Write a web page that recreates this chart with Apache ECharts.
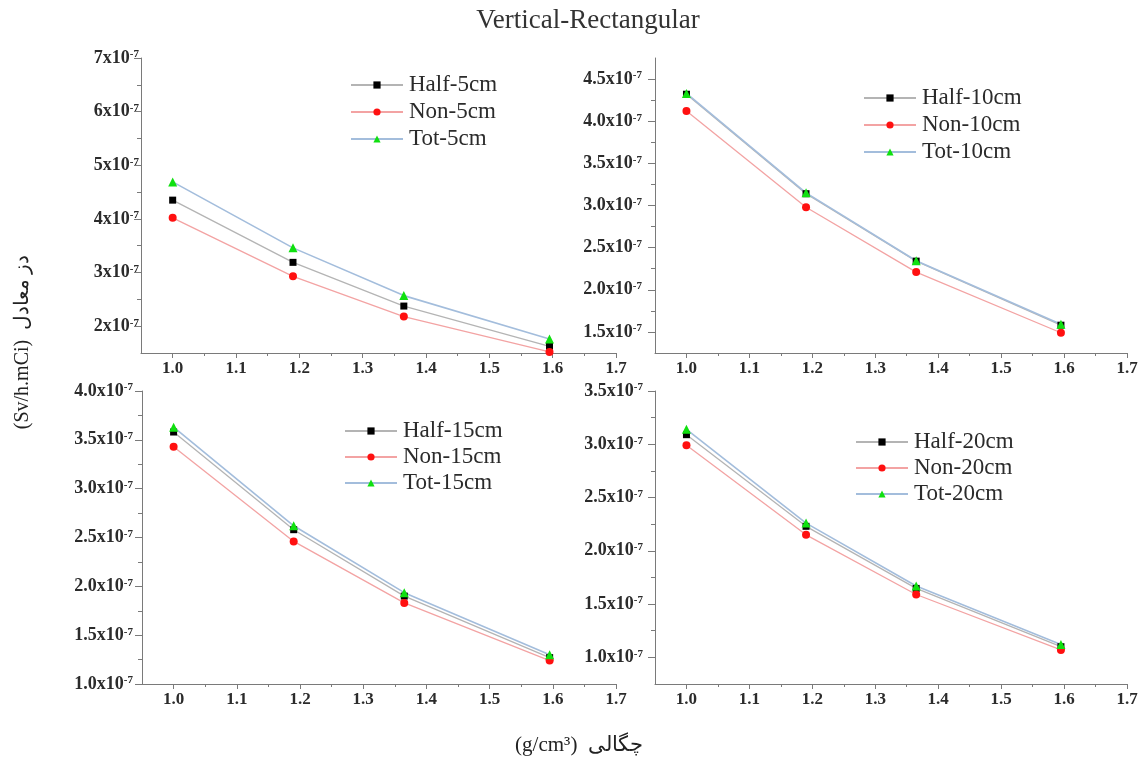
<!DOCTYPE html>
<html>
<head>
<meta charset="utf-8">
<script src="https://cdn.jsdelivr.net/npm/echarts@6/dist/echarts.min.js"></script>
<style>
  html, body { margin: 0; padding: 0; background: #fff; }
  #chart { width: 1141px; height: 762px; }
</style>
</head>
<body>
<div id="chart"></div>
<script>
// Density of the shielding material (g/cm3)
const densities = [1.0, 1.19, 1.365, 1.595];

// Equivalent dose values, in units of 1e-7 Sv/h.mCi
const half5  = [4.35, 3.19, 2.375, 1.625];
const non5   = [4.02, 2.93, 2.18, 1.52];
const tot5   = [4.69, 3.46, 2.57, 1.76];

const half10 = [4.32, 3.14, 2.34, 1.58];
const non10  = [4.12, 2.98, 2.21, 1.49];
const tot10  = [4.33, 3.15, 2.345, 1.59];

const half15 = [3.58, 2.58, 1.90, 1.27];
const non15  = [3.43, 2.46, 1.83, 1.24];
const tot15  = [3.63, 2.62, 1.935, 1.30];

const half20 = [3.09, 2.23, 1.647, 1.10];
const non20  = [2.99, 2.15, 1.59, 1.07];
const tot20  = [3.14, 2.26, 1.67, 1.12];

// Axis ticks
const xMajorTicks = [1.0, 1.1, 1.2, 1.3, 1.4, 1.5, 1.6, 1.7];
const xMinorTicks = [1.05, 1.15, 1.25, 1.35, 1.45, 1.55, 1.65];

const yMajor5  = [2, 3, 4, 5, 6, 7];
const yMinor5  = [2.5, 3.5, 4.5, 5.5, 6.5];
const yMajor10 = [1.5, 2.0, 2.5, 3.0, 3.5, 4.0, 4.5];
const yMinor10 = [1.75, 2.25, 2.75, 3.25, 3.75, 4.25];
const yMajor15 = [1.0, 1.5, 2.0, 2.5, 3.0, 3.5, 4.0];
const yMinor15 = [1.25, 1.75, 2.25, 2.75, 3.25, 3.75];
const yMajor20 = [1.0, 1.5, 2.0, 2.5, 3.0, 3.5];
const yMinor20 = [1.25, 1.75, 2.25, 2.75, 3.25];

const FONT = 'Liberation Serif';
const TXT = '#2b2b2b';
const AXIS = '#7a7a7a';

const panels = [
  { depth: '5cm',  half: half5,  non: non5,  tot: tot5,  yMin: 1.5,  yMax: 7,    major: yMajor5,  minor: yMinor5,  dec: 0, labelGap: 2,
    grid: { left: 141, top: 58,  width: 475, height: 295 }, legend: { left: 350, top: 72 },  gap: 1 },
  { depth: '10cm', half: half10, non: non10, tot: tot10, yMin: 1.25, yMax: 4.75, major: yMajor10, minor: yMinor10, dec: 1, labelGap: 13,
    grid: { left: 655, top: 58,  width: 472, height: 295 }, legend: { left: 863, top: 85 },  gap: 1 },
  { depth: '15cm', half: half15, non: non15, tot: tot15, yMin: 1.0,  yMax: 4.0,  major: yMajor15, minor: yMinor15, dec: 1, labelGap: 9,
    grid: { left: 142, top: 391, width: 474, height: 293 }, legend: { left: 344, top: 418 }, gap: 0 },
  { depth: '20cm', half: half20, non: non20, tot: tot20, yMin: 0.75, yMax: 3.5,  major: yMajor20, minor: yMinor20, dec: 1, labelGap: 12,
    grid: { left: 655, top: 391, width: 472, height: 293 }, legend: { left: 855, top: 429 }, gap: 0 }
];

const seriesStyles = [
  { key: 'half', prefix: 'Half', symbol: 'rect',     size: 7, mark: '#000000', line: '#b4b4b4', width: 1.3 },
  { key: 'non',  prefix: 'Non',  symbol: 'circle',   size: 8, mark: '#ff1010', line: '#f3a3a3', width: 1.3 },
  { key: 'tot',  prefix: 'Tot',  symbol: 'triangle', size: 9, mark: '#10e010', line: '#a3bddc', width: 1.6 }
];

const grids = [], xAxes = [], yAxes = [], series = [], legends = [];

panels.forEach((p, i) => {
  grids.push(Object.assign({ containLabel: false }, p.grid));

  // main x axis with labels and major ticks
  xAxes.push({
    type: 'value', gridIndex: i, position: 'bottom', min: 0.95, max: 1.7,
    axisLine: { onZero: false, lineStyle: { color: AXIS, width: 1 } },
    axisTick: { customValues: xMajorTicks, length: 5, lineStyle: { color: AXIS } },
    axisLabel: {
      customValues: xMajorTicks, margin: 7,
      formatter: v => v.toFixed(1),
      fontFamily: FONT, fontWeight: 'bold', fontSize: 17, color: TXT
    },
    splitLine: { show: false }
  });
  // minor x ticks
  xAxes.push({
    type: 'value', gridIndex: i, position: 'bottom', offset: 0, min: 0.95, max: 1.7,
    axisLine: { show: false, onZero: false },
    axisTick: { customValues: xMinorTicks, length: 3, lineStyle: { color: AXIS } },
    axisLabel: { show: false },
    splitLine: { show: false }
  });

  // main y axis
  yAxes.push({
    type: 'value', gridIndex: i, position: 'left', min: p.yMin, max: p.yMax,
    axisLine: { show: true, onZero: false, lineStyle: { color: AXIS, width: 1 } },
    axisTick: { show: true, customValues: p.major, length: 7, lineStyle: { color: AXIS } },
    axisLabel: {
      customValues: p.major, margin: p.labelGap,
      formatter: v => '{m|' + v.toFixed(p.dec) + 'x10}{e|-7}',
      rich: {
        m: { fontFamily: FONT, fontWeight: 'bold', fontSize: 18, color: TXT },
        e: { fontFamily: FONT, fontWeight: 'bold', fontSize: 11, color: TXT, verticalAlign: 'top' }
      }
    },
    splitLine: { show: false }
  });
  // minor y ticks
  yAxes.push({
    type: 'value', gridIndex: i, position: 'left', offset: 0, min: p.yMin, max: p.yMax,
    axisLine: { show: false, onZero: false },
    axisTick: { show: true, customValues: p.minor, length: 4, lineStyle: { color: AXIS } },
    axisLabel: { show: false },
    splitLine: { show: false }
  });

  const names = [];
  seriesStyles.forEach(s => {
    const name = s.prefix + '-' + p.depth;
    names.push(name);
    series.push({
      name, type: 'line',
      xAxisIndex: 2 * i, yAxisIndex: 2 * i,
      data: densities.map((d, k) => [d, p[s.key][k]]),
      symbol: s.symbol, symbolSize: s.size,
      itemStyle: { color: s.mark },
      lineStyle: { color: s.line, width: s.width },
      clip: false
    });
  });

  legends.push({
    orient: 'vertical', left: p.legend.left, top: p.legend.top,
    padding: 0, itemGap: p.gap, itemWidth: 52, itemHeight: 9,
    data: names,
    textStyle: { fontFamily: FONT, fontSize: 23, color: TXT, lineHeight: 26, padding: [0, 0, 0, 1] }
  });
});

const chart = echarts.init(document.getElementById('chart'), null, { renderer: 'canvas' });
chart.setOption({
  animation: false,
  backgroundColor: '#ffffff',
  grid: grids,
  xAxis: xAxes,
  yAxis: yAxes,
  legend: legends,
  series,
  graphic: [
    {
      type: 'text', x: 588, y: 21,
      style: { text: 'Vertical-Rectangular', font: '27px "Liberation Serif"', fill: '#333', textAlign: 'center', textVerticalAlign: 'middle' }
    },
    {
      type: 'text', x: 23, y: 342, rotation: Math.PI / 2,
      style: { text: '(Sv/h.mCi)  دز معادل', font: '20px "Liberation Serif"', fill: '#222', textAlign: 'center', textVerticalAlign: 'middle' }
    },
    {
      type: 'text', x: 579, y: 745,
      style: { text: '(g/cm³)  چگالی', font: '21px "Liberation Serif"', fill: '#222', textAlign: 'center', textVerticalAlign: 'middle' }
    }
  ]
});
</script>
</body>
</html>
